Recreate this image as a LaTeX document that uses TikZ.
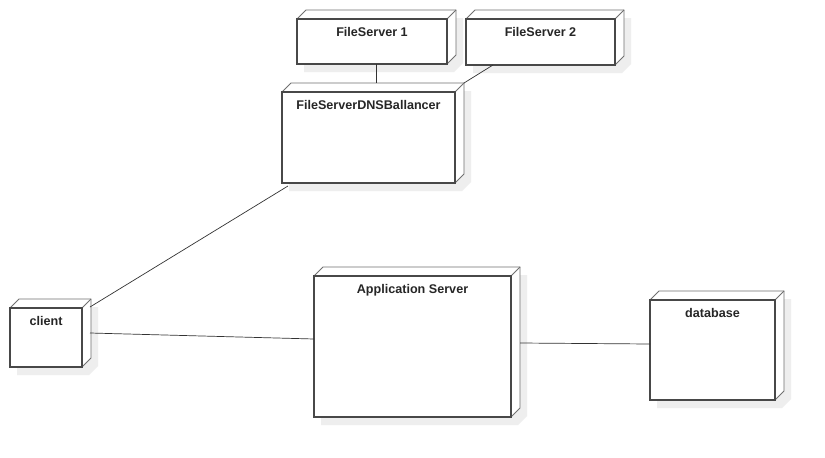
\documentclass[tikz,border=0pt]{standalone}
\usepackage{fontspec}
\setmainfont{Liberation Sans}
\usetikzlibrary{calc}
\definecolor{edgec}{HTML}{707070}
\definecolor{frontc}{HTML}{484848}
\definecolor{shadec}{HTML}{EEEEEE}
\tikzset{
  shade3d/.style={fill=shadec, draw=none},
  side3d/.style={draw=edgec, fill=white, line width=0.9pt, line join=miter},
  front3d/.style={draw=frontc, fill=white, line width=1.1pt, anchor=north west, inner sep=0pt, outer sep=0pt},
  lbl/.style={font=\bfseries\fontsize{12.6}{14}\selectfont, text=black!85, anchor=base, inner sep=0pt},
  conn/.style={draw=black!80, line width=0.7pt}
}
% name, x, y, width, height, label
\newcommand\dbox[6]{%
  \fill[shade3d] (#2+7,#3+8) -- (#2+16,#3-1) -- (#2+#4+16,#3-1) -- (#2+#4+16,#3+#5-1) -- (#2+#4+7,#3+#5+8) -- (#2+7,#3+#5+8) -- cycle;
  \filldraw[side3d] (#2,#3) -- (#2+9,#3-9) -- (#2+#4+9,#3-9) -- (#2+#4+9,#3+#5-9) -- (#2+#4,#3+#5) -- (#2+#4,#3) -- cycle;
  \draw[side3d] (#2+#4,#3) -- (#2+#4+9,#3-9);
  \coordinate (#1-btl) at (#2+9,#3-9);
  \coordinate (#1-btr) at (#2+#4+9,#3-9);
  \node[front3d, minimum width=#4pt, minimum height=#5pt] (#1) at (#2,#3) {};
  \node[lbl] (#1-l) at (#2+#4/2,#3+17) {#6};
}
\begin{document}
\begin{tikzpicture}[x=1pt,y=-1pt]
\useasboundingbox (0,0) rectangle (825,458);
\fill[white] (0,0) rectangle (825,458);
\dbox{fsone}{297}{19}{150}{45}{FileServer 1}
\dbox{fstwo}{466}{19}{149}{46}{FileServer 2}
\dbox{dns}{282}{92}{173}{91}{FileServerDNSBallancer}
\dbox{client}{10}{308}{72}{59}{client}
\dbox{app}{314}{276}{197}{141}{Application Server}
\dbox{db}{650}{300}{125}{100}{database}
\draw[conn] ([xshift=4pt]fsone.south) -- ([xshift=4pt]fsone.south |- dns-btl);
\draw[conn] ([xshift=27pt]fstwo.south west) -- (dns-btr);
\draw[conn] ([shift={(6pt,-3pt)}]dns.south west) -- ([shift={(-1pt,-8pt)}]client-btr);
\draw[conn] ([shift={(8pt,4.5pt)}]client.east) -- ([yshift=7.5pt]app.west);
\draw[conn] ([shift={(9pt,3.5pt)}]app.east) -- ([yshift=6pt]db.west);
\end{tikzpicture}
\end{document}
